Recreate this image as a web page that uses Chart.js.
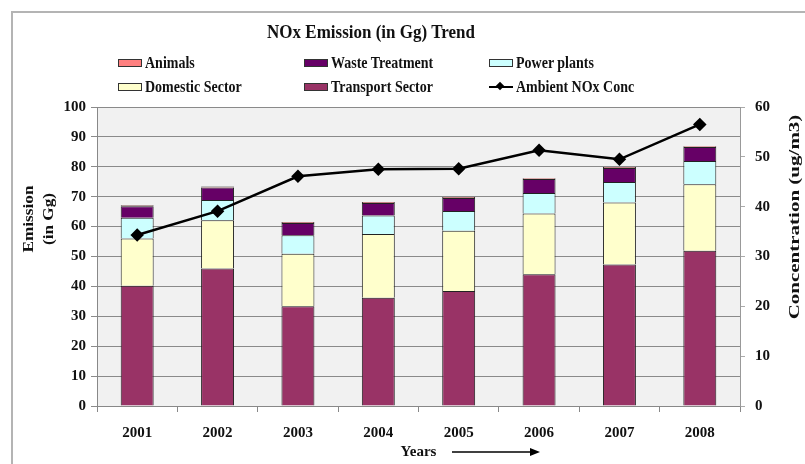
<!DOCTYPE html>
<html><head><meta charset="utf-8">
<script src="https://cdn.jsdelivr.net/npm/chart.js@4"></script>
<style>
body{margin:0;background:#fff;}
#wrap{position:relative;width:805px;height:464px;overflow:hidden;}
canvas{position:absolute;left:0;top:0;}
.frame{position:absolute;left:11px;top:11px;width:800px;height:460px;border-left:2px solid #b4b4b4;border-top:2px solid #b4b4b4;}
#title{position:absolute;top:22px;left:0;width:742px;text-align:center;font:bold 17px "Liberation Serif";color:#111;transform:scaleY(1.15);}
.lg{position:absolute;font:bold 14px "Liberation Serif";white-space:nowrap;display:flex;align-items:center;height:16px;color:#111;}
.lg .tx{display:inline-block;transform:scaleY(1.15);}
.box{width:22px;height:6px;border:1px solid #333;margin-right:3px;}
.ln{position:relative;width:24px;height:2px;background:#000;margin-right:3px;}
.ln::after{content:"";position:absolute;left:8px;top:-3px;width:6px;height:6px;background:#000;transform:rotate(45deg);}
</style></head>
<body>
<div id="wrap">
<canvas id="c" width="805" height="464"></canvas>
<div class="frame"></div>
<div id="title">NOx Emission (in Gg) Trend</div>
<div id="legend"></div>
</div>
<script>
const years = ['2001','2002','2003','2004','2005','2006','2007','2008'];
const transport = [40.2, 46.0, 33.4, 36.2, 38.5, 44.1, 47.3, 51.9];
const domestic  = [15.8, 16.1, 17.5, 21.3, 20.1, 20.3, 20.8, 22.3];
const power     = [7.0, 6.8, 6.2, 6.2, 6.6, 6.8, 6.8, 7.7];
const waste     = [3.8, 4.2, 4.1, 4.2, 4.4, 4.7, 4.7, 4.7];
const animals   = [0.3, 0.3, 0.3, 0.3, 0.3, 0.3, 0.3, 0.3];
const ambient   = [34.3, 39.1, 46.1, 47.5, 47.6, 51.3, 49.5, 56.5];
const leftTicksMax = 100, rightTicksMax = 60;
const leftTitle = ['Emission', '(in Gg)'];
const rightTitle = 'Concentration (ug/m3)';

const COL = {transport:'#993366', domestic:'#ffffcc', power:'#ccffff', waste:'#660066', animals:'#ff8080'};

// HTML legend (3 columns, 2 rows, row-major as in reference)
const legendItems = [
  {t:'Animals', c:COL.animals, x:118, y:55},
  {t:'Waste Treatment', c:COL.waste, x:304, y:55},
  {t:'Power plants', c:COL.power, x:489, y:55},
  {t:'Domestic Sector', c:COL.domestic, x:118, y:79},
  {t:'Transport Sector', c:COL.transport, x:304, y:79},
  {t:'Ambient NOx Conc', line:true, x:489, y:79}
];
const lg = document.getElementById('legend');
legendItems.forEach(it=>{
  const d=document.createElement('div'); d.className='lg';
  d.style.left=it.x+'px'; d.style.top=it.y+'px';
  const m=document.createElement('span');
  if(it.line){m.className='ln';} else {m.className='box'; m.style.background=it.c;}
  d.appendChild(m);
  const t=document.createElement('span'); t.className='tx'; t.textContent=it.t;
  d.appendChild(t);
  lg.appendChild(d);
});

const font = (s)=>({family:'"Liberation Serif", serif', size:s, weight:'bold'});
const barBase = {type:'bar', borderColor:'#222', borderWidth:1, yAxisID:'y', stack:'s', order:1,
                 barPercentage:0.41, categoryPercentage:1.0};

function rotText(ctx, text, x, y, size, stretch){
  ctx.save();
  ctx.translate(x, y); ctx.rotate(-Math.PI/2); ctx.scale(stretch, 1);
  ctx.font = 'bold ' + size + 'px "Liberation Serif", serif';
  ctx.fillStyle = '#111'; ctx.textAlign = 'center'; ctx.textBaseline = 'middle';
  ctx.fillText(text, 0, 0);
  ctx.restore();
}

const bgPlugin = {
  id:'bg',
  beforeDraw(chart){
    const {ctx, chartArea:a} = chart;
    ctx.save(); ctx.fillStyle='#f1f1f1';
    ctx.fillRect(a.left, a.top, a.right-a.left, a.bottom-a.top);
    ctx.restore();
  },
  afterDraw(chart){
    const {ctx} = chart;
    // axis titles
    rotText(ctx, leftTitle[0], 29, 219, 15, 1.15);
    rotText(ctx, leftTitle[1], 49, 219, 15, 1.15);
    rotText(ctx, rightTitle, 795, 217, 14, 1.5);
    // arrow next to "Years"
    ctx.save(); ctx.strokeStyle='#000'; ctx.fillStyle='#000'; ctx.lineWidth=1.5;
    ctx.beginPath(); ctx.moveTo(452,452); ctx.lineTo(532,452); ctx.stroke();
    ctx.beginPath(); ctx.moveTo(540,452); ctx.lineTo(530,448); ctx.lineTo(530,456); ctx.closePath(); ctx.fill();
    ctx.restore();
  }
};

new Chart(document.getElementById('c'), {
  data:{
    labels: years,
    datasets:[
      Object.assign({}, barBase, {label:'Transport Sector', data:transport, backgroundColor:COL.transport}),
      Object.assign({}, barBase, {label:'Domestic Sector', data:domestic, backgroundColor:COL.domestic}),
      Object.assign({}, barBase, {label:'Power plants', data:power, backgroundColor:COL.power}),
      Object.assign({}, barBase, {label:'Waste Treatment', data:waste, backgroundColor:COL.waste}),
      Object.assign({}, barBase, {label:'Animals', data:animals, backgroundColor:COL.animals}),
      {type:'line', label:'Ambient NOx Conc', data:ambient, yAxisID:'y1', order:0,
       borderColor:'#000', borderWidth:2.5, pointStyle:'rectRot', pointRadius:5,
       pointBackgroundColor:'#000', pointBorderColor:'#000', tension:0}
    ]
  },
  options:{
    responsive:false, animation:false, devicePixelRatio:1,
    layout:{padding:{top:107, left:0, right:0, bottom:0}},
    plugins:{legend:{display:false}, title:{display:false}, tooltip:{enabled:false}},
    scales:{
      x:{stacked:true, offset:true,
         grid:{offset:true, drawOnChartArea:false, drawTicks:true, tickLength:6, color:'#888'},
         border:{color:'#888', width:1},
         ticks:{font:font(15), color:'#111', padding:12},
         title:{display:true, text:'Years', font:font(15), color:'#111', padding:{top:0,bottom:3}},
         afterFit(s){ s.height = 58; }},
      y:{position:'left', stacked:true, min:0, max:leftTicksMax,
         ticks:{stepSize:10, font:font(15), color:'#111', padding:5},
         grid:{color:'#8a8a8a', tickLength:6},
         border:{color:'#888'},
         title:{display:false},
         afterFit(s){ s.width = 97; }},
      y1:{position:'right', min:0, max:rightTicksMax,
         ticks:{stepSize:10, font:font(15), color:'#111', padding:10},
         grid:{drawOnChartArea:false, color:'#aaa', tickLength:5},
         border:{color:'#999'},
         title:{display:false},
         afterFit(s){ s.width = 65; }}
    }
  },
  plugins:[bgPlugin]
});
</script>
</body></html>
